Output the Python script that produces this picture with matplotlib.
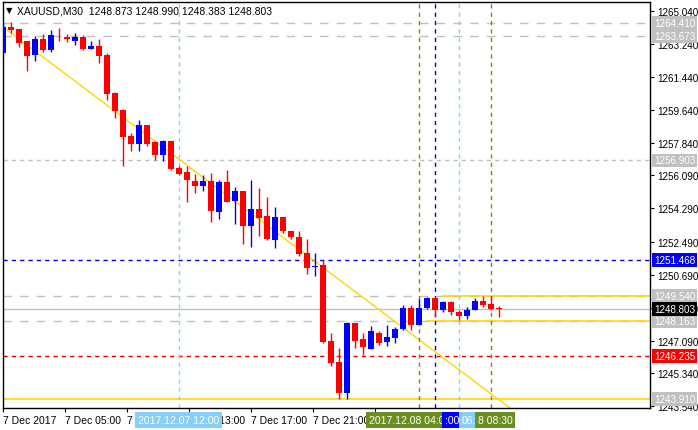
import matplotlib
matplotlib.use("Agg")
import matplotlib.pyplot as plt

plt.rcParams['font.family'] = ['Liberation Sans', 'DejaVu Sans']

opens  = [1262.75,1264.17,1264.06,1263.41,1262.64,1263.52,1262.92,1263.64,1263.62,1263.41,
          1263.62,1262.97,1263.13,1262.64,1260.58,1259.65,1258.23,1257.80,1258.83,1257.91,
          1257.20,1257.96,1256.49,1256.27,1255.79,1255.51,1255.79,1254.10,1255.73,1254.70,
          1255.24,1253.33,1254.26,1253.88,1252.57,1253.83,1253.06,1252.74,1251.87,1251.13,
          1251.21,1247.08,1245.93,1244.24,1248.06,1247.19,1246.64,1247.51,1247.02,1247.24,
          1247.73,1248.87,1247.95,1248.87,1249.42,1248.76,1249.20,1248.65,1248.44,1248.76,
          1249.25,1249.09,1248.873]
highs  = [1264.44,1264.44,1264.06,1263.41,1263.68,1263.79,1264.01,1264.11,1263.79,1263.84,
          1263.73,1263.41,1263.52,1262.75,1260.63,1259.71,1258.40,1259.11,1258.83,1257.96,
          1258.02,1257.96,1256.60,1256.60,1256.17,1256.11,1256.22,1255.84,1256.38,1255.46,
          1255.24,1255.84,1255.40,1254.91,1254.37,1253.83,1253.06,1253.06,1252.63,1251.87,
          1251.48,1247.51,1246.70,1248.11,1248.06,1247.51,1247.90,1247.62,1247.95,1247.84,
          1249.04,1249.04,1249.36,1249.47,1249.47,1249.25,1249.25,1248.76,1248.93,1249.42,
          1249.52,1249.52,1248.990]
lows   = [1262.75,1263.84,1263.08,1261.77,1262.32,1262.81,1262.81,1263.41,1263.35,1263.19,
          1262.92,1262.97,1262.21,1260.20,1259.22,1256.60,1257.42,1257.42,1257.69,1256.93,
          1256.88,1256.38,1256.11,1254.64,1255.13,1255.24,1253.55,1253.72,1254.64,1253.44,
          1252.36,1252.19,1252.79,1252.57,1252.14,1252.95,1252.63,1251.70,1250.72,1250.61,
          1246.97,1245.72,1243.92,1243.92,1246.70,1246.31,1246.64,1246.86,1246.80,1246.97,
          1247.68,1247.68,1247.95,1248.82,1248.38,1248.65,1248.49,1248.22,1248.28,1248.76,
          1248.93,1248.76,1248.383]
closes = [1264.17,1264.01,1263.30,1262.59,1263.52,1262.92,1263.73,1263.60,1263.52,1263.62,
          1262.97,1263.13,1262.59,1260.52,1259.60,1258.18,1257.80,1258.83,1257.80,1257.20,
          1257.96,1256.44,1256.17,1255.84,1255.51,1255.79,1254.15,1255.73,1254.64,1255.24,
          1253.33,1254.26,1253.77,1252.63,1253.83,1253.06,1252.74,1251.81,1251.05,1251.16,
          1247.02,1245.88,1244.24,1248.06,1247.08,1246.75,1247.62,1246.97,1247.30,1247.73,
          1248.87,1247.95,1248.87,1249.42,1248.76,1249.20,1248.65,1248.44,1248.76,1249.25,
          1249.04,1248.82,1248.803]

y_ticks = [1265.040,1263.240,1261.440,1259.640,1257.840,1256.090,1254.290,1252.490,
           1250.690,1248.890,1247.090,1245.340,1243.540]
x_tick_pos = [0, 7.75, 15.5, 23.25, 31, 38.75, 46.5]
x_tick_labels = ["7 Dec 2017","7 Dec 05:00","7 Dec 09:00","7 Dec 13:00","7 Dec 17:00",
                 "7 Dec 21:00","8 Dec 01:00"]

W, H = 698, 431
FS = 7.5
FSY = 7.1
fig = plt.figure(figsize=(W/100, H/100), dpi=100)
fig.patch.set_facecolor("white")
L, T, R, B = 3, 3, 650, 409
ax = fig.add_axes([L/W, 1-B/H, (R-L)/W, (B-T)/H])
ax.set_xlim(0, (R-L)/8)
ax.set_ylim(1243.43, 1265.53)

BLUE, RED = "#0000ff", "#ff0000"
GRAY = "#c0c0c0"
YEL = "#ffd700"

ax.axhline(1264.410, color=GRAY, lw=1, dashes=(6, 6), zorder=1)
ax.axhline(1263.673, color=GRAY, lw=1, dashes=(6, 6), zorder=1)
ax.axhline(1249.540, color=GRAY, lw=1, dashes=(6, 6), zorder=1)
ax.axhline(1248.163, color=GRAY, lw=1, dashes=(6, 6), zorder=1)
ax.axhline(1256.903, color=GRAY, lw=1, dashes=(3, 3), zorder=1)
ax.axhline(1248.803, color=GRAY, lw=1, zorder=1)
ax.axhline(1251.468, color="#0000cc", lw=1, dashes=(3, 3), zorder=1)
ax.axhline(1246.235, color="#dd0000", lw=1, dashes=(3, 3), zorder=1)
ax.axhline(1243.910, color=YEL, lw=1.2, zorder=1)
ax.plot([55, 81], [1249.540]*2, color=YEL, lw=1.2, zorder=1)
ax.plot([53, 81], [1248.163]*2, color=YEL, lw=1.2, zorder=1)
ax.plot([0, 63.4], [1264.17, 1243.42], color=YEL, lw=1, zorder=1)

for xv, col in [(22, "#87cefa"), (52, "#6b8e23"), (54, "#0000cc"), (57, "#87cefa"), (61, "#6b8e23")]:
    ax.axvline(xv, color=col, lw=1, dashes=(3, 3), zorder=1)

for i in range(len(opens)):
    o, h, l, c = opens[i], highs[i], lows[i], closes[i]
    col = BLUE if c > o else RED
    ax.vlines(i, l, h, color=col, lw=1, zorder=3)
    lo, hi = min(o, c), max(o, c)
    if hi - lo < 0.05:
        hi = lo + 0.05
    ax.bar(i, hi - lo, bottom=lo, width=0.75, color=col, edgecolor=col, lw=0, zorder=4)

for s in ax.spines.values():
    s.set_color("black"); s.set_linewidth(1)
ax.yaxis.tick_right()
ax.set_yticks(y_ticks)
ax.set_yticklabels([f"{v:.3f}" for v in y_ticks], fontsize=FSY)
ax.tick_params(axis="y", direction="out", length=3, pad=2)
ax.set_xticks(x_tick_pos)
ax.set_xticklabels(x_tick_labels, fontsize=FS, ha="left")
ax.tick_params(axis="x", direction="out", length=3, pad=2)

fig.text(6/W, 1-11/H, "▼", fontsize=6, va="center", ha="left", family="DejaVu Sans")
fig.text(17/W, 1-11/H, "XAUUSD,M30  1248.873 1248.990 1248.383 1248.803",
         fontsize=FS, va="center", ha="left")

def price_box(p, fc, tc="white"):
    yy = (p - 1243.43) / (1265.53 - 1243.43)
    yfig = (1 - B/H) + yy * (B - T)/H
    fig.text(654/W, yfig, f"{p:.3f}", fontsize=FSY, color=tc, va="center", ha="left",
             bbox=dict(boxstyle="square,pad=0.2", fc=fc, ec="none"), zorder=10)

for p in [1264.410, 1263.673, 1256.903, 1249.540, 1248.163, 1243.910]:
    price_box(p, GRAY)
price_box(1251.468, "#0000ff")
price_box(1248.803, "black")
price_box(1246.235, "#ff0000")

def time_box(x, text, fc):
    fig.text(x/W, 1-421/H, text, fontsize=FS, color="white", va="center", ha="left",
             bbox=dict(boxstyle="square,pad=0.25", fc=fc, ec="none"), zorder=10)

time_box(138, "2017.12.07 12:00", "#87cefa")
time_box(369, "2017.12.08 04:00", "#6b8e23")
time_box(445, ":00", "#0000ff")
time_box(462, "06:30", "#87cefa")
time_box(478, "8 08:30", "#6b8e23")

fig.savefig("out.png", dpi=100)
